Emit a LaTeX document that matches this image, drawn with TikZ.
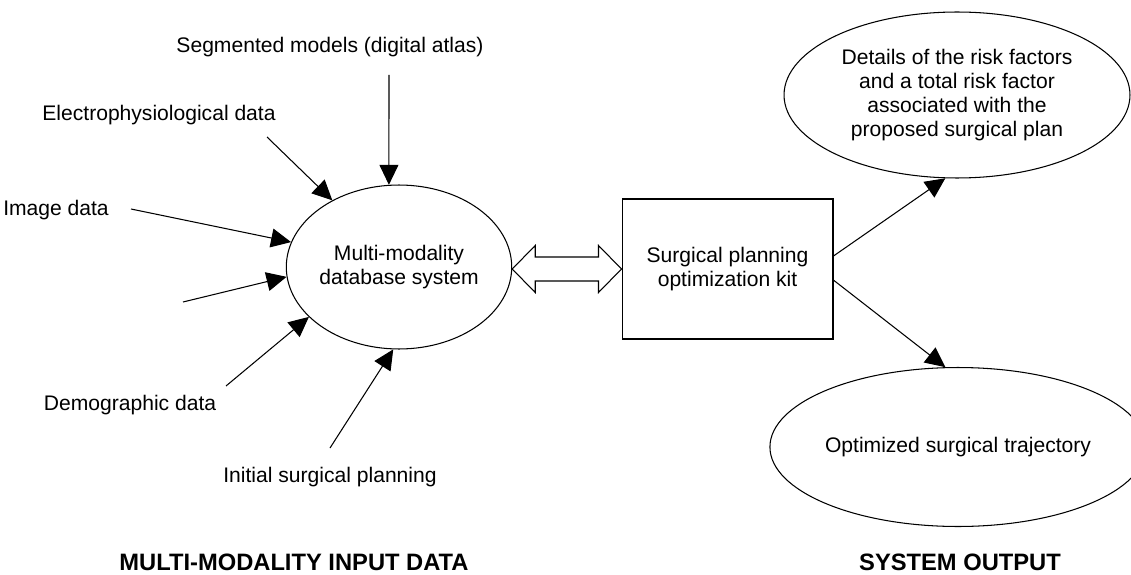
\documentclass[tikz,border=0pt]{standalone}
\usepackage{fontspec}
\setmainfont{Liberation Sans}
\usetikzlibrary{shapes,arrows.meta,calc}
\tikzstyle{bubble}=[draw, ellipse, inner sep=0pt, align=center, fill=white]
\tikzstyle{box}=[draw, rectangle, inner sep=0pt, align=center]
\tikzstyle{line} = [draw, -{Triangle[length=0.4cm, width=0.38cm]}]
\tikzstyle{title}=[font=\fontsize{13.5}{16}\selectfont\bfseries]

\begin{document}
\begin{tikzpicture}[x=0.02cm, y=-0.02cm, line width=0.6pt, font=\fontsize{12}{13.6}\selectfont]
  \useasboundingbox (0,0) rectangle (1131,574);

  % blocks
  \node[bubble, minimum width=4.28cm, minimum height=3.28cm] (db) at (399,267) {Multi-modality\\database system};
  \node[box, minimum width=4.22cm, minimum height=2.8cm] (kit) at (727.5,269) {Surgical planning\\optimization kit};
  \node[bubble, minimum width=6.92cm, minimum height=3.32cm] (risk) at (957,95) {Details of the risk factors\\and a total risk factor\\associated with the\\proposed surgical plan};
  \node[bubble, minimum width=6.92cm, minimum height=3.18cm] (traj) at (958,447) {Optimized surgical trajectory};

  %labels
  \node (seg) at (330,47) {Segmented models (digital atlas)};
  \node (elec) at (159,115) {Electrophysiological data};
  \node (img) at (56,210) {Image data};
  \node (demo) at (130,405) {Demographic data};
  \node (init) at (330,477) {Initial surgical planning};
  \node[title] (intitle) at (294,562) {MULTI-MODALITY INPUT DATA};
  \node[title] (outtitle) at (960,562) {SYSTEM OUTPUT};

  % inputs
  \coordinate (segs) at (389,75);
  \coordinate (elecs) at (267,137);
  \coordinate (imgs) at (131,209);
  \coordinate (other) at (183,302);
  \coordinate (demos) at (226,386);
  \coordinate (inits) at (330,448);
  \path[line] (segs) -- (db.97);
  \path[line] (elecs) -- (db.135);
  \path[line] (imgs) -- (db.167);
  \path[line] (other) -- (db.185);
  \path[line] (demos) -- (db.209);
  \path[line] (inits) -- (db.266);

  % link
  \coordinate (dl) at (db.east |- kit.west);
  \coordinate (dr) at (kit.west);
  \draw (dl) -- ++(23,-23.5) -- ++(0,11.5) -- ($(dr)+(-23,-12)$) -- ++(0,-11.5) -- (dr)
    -- ++(-23,23.5) -- ++(0,-11.5) -- ($(dl)+(23,12)$) -- ++(0,11.5) -- cycle;

  % outputs
  \path[line] (kit.7) -- (risk.262);
  \path[line] (kit.354) -- (traj.99);
\end{tikzpicture}
\end{document}
